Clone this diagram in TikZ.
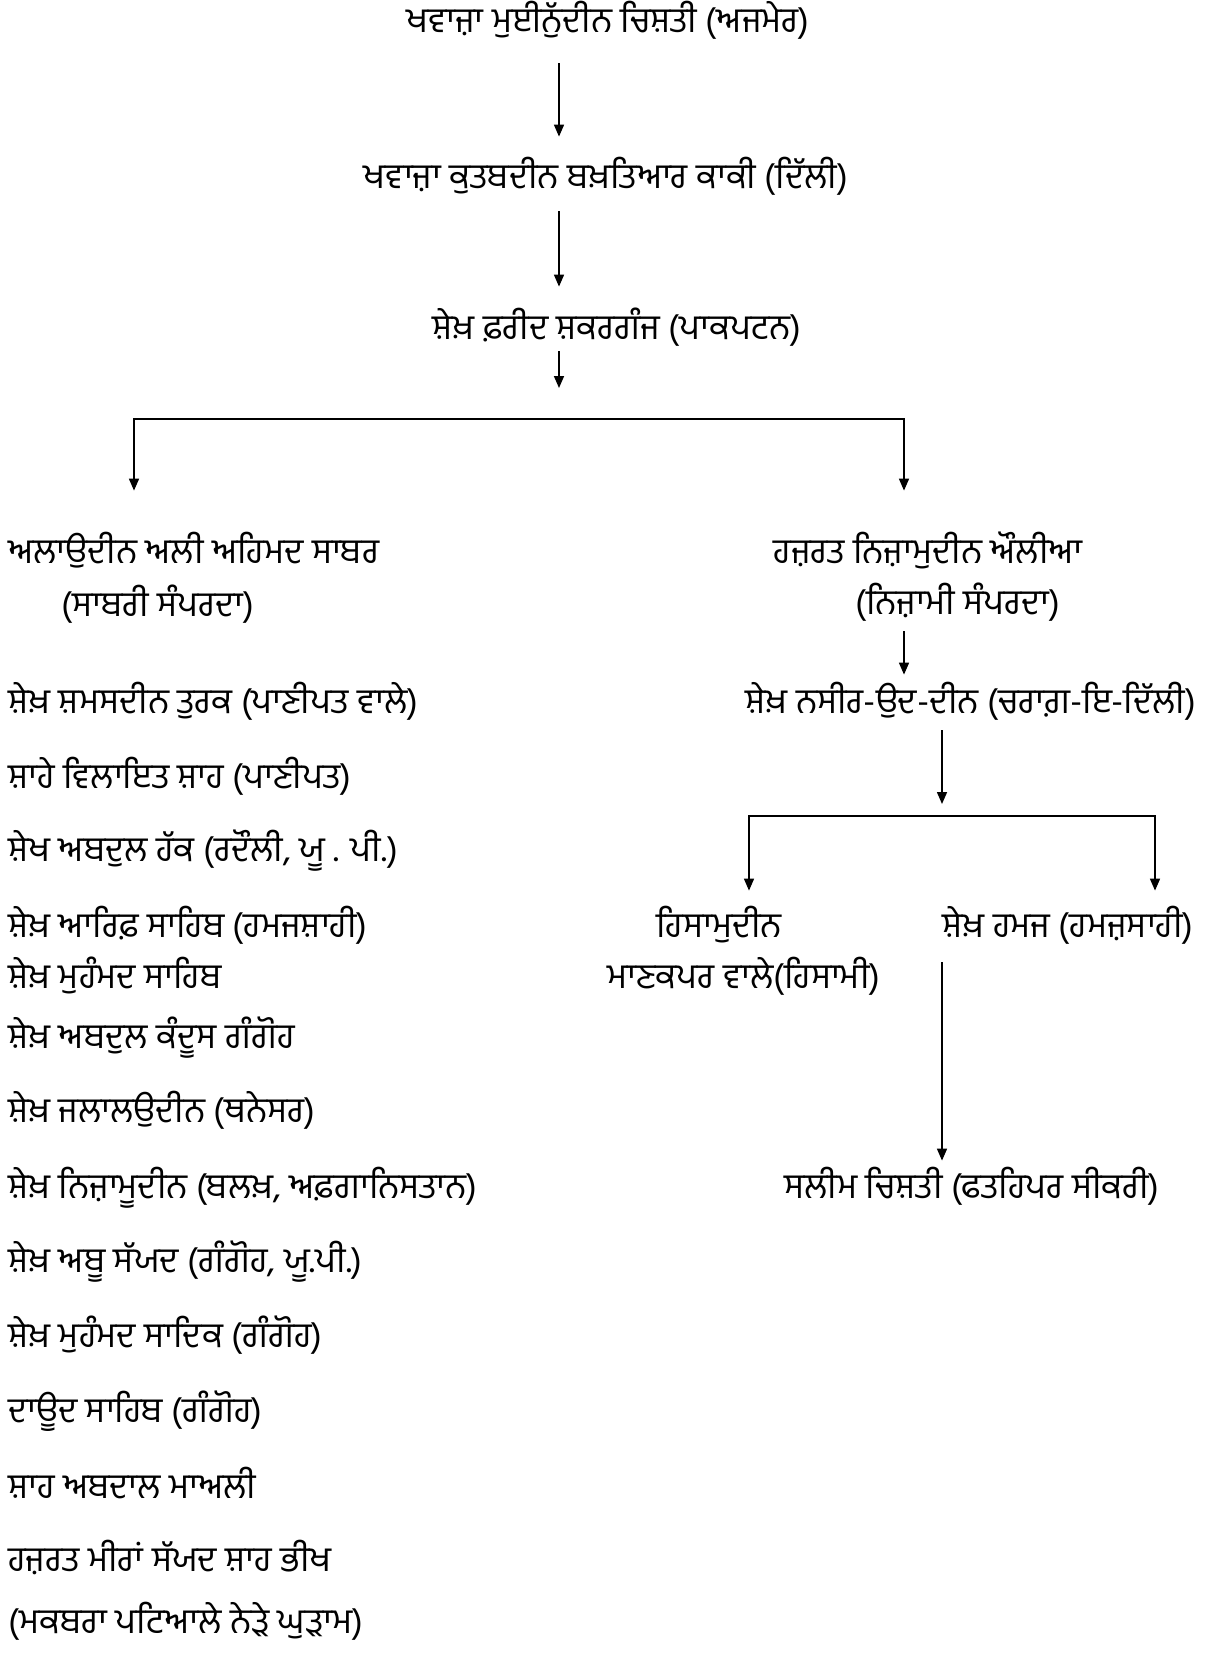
\documentclass[tikz,border=0pt]{standalone}
\usepackage{fontspec}
\newfontfamily\pa[Script=Gurmukhi]{Hind Jalandhar}
\usetikzlibrary{arrows.meta}
\begin{document}
\begin{tikzpicture}[x=0.5pt,y=-0.5pt,
  lbl/.style={inner sep=0pt, text height=14.7pt, text depth=5.3pt, font=\pa\fontsize{17.5}{21}\selectfont},
  lw/.style={lbl, anchor=west},
  arr/.style={line width=0.8pt, -{Triangle[length=6pt,width=5pt]}},
  both/.style={line width=0.8pt, {Triangle[length=6pt,width=5pt]}-{Triangle[length=6pt,width=5pt]}}]
\useasboundingbox[fill=white] (0,0) rectangle (1209,1654);
% trunk coordinates
\coordinate (trunk) at (559,0);
\coordinate (hub1) at (559,419);
\coordinate (bL) at (134,419);
\coordinate (bR) at (904,419);
\coordinate (hub2) at (942,816);
\coordinate (cL) at (749,816);
\coordinate (cR) at (1155,816);
% top chain
\node[lbl] (t1) at (608,23) {ਖਵਾਜ਼ਾ ਮੁਈਨੁੱਦੀਨ ਚਿਸ਼ਤੀ (ਅਜਮੇਰ)};
\node[lbl] (t2) at (606,179) {ਖਵਾਜ਼ਾ ਕੁਤਬਦੀਨ ਬਖ਼ਤਿਆਰ ਕਾਕੀ (ਦਿੱਲੀ)};
\node[lbl] (t3) at (617,330) {ਸ਼ੇਖ਼ ਫ਼ਰੀਦ ਸ਼ਕਰਗੰਜ (ਪਾਕਪਟਨ)};
% branches
\node[lw] (l0a) at (8,554) {ਅਲਾਉਦੀਨ ਅਲੀ ਅਹਿਮਦ ਸਾਬਰ};
\node[lbl] (l0b) at (158,607) {(ਸਾਬਰੀ ਸੰਪਰਦਾ)};
\node[lbl] (r0a) at (928,554) {ਹਜ਼ਰਤ ਨਿਜ਼ਾਮੁਦੀਨ ਔਲੀਆ};
\node[lbl] (r0b) at (958,605) {(ਨਿਜ਼ਾਮੀ ਸੰਪਰਦਾ)};
% right column
\node[lbl] (r1) at (971,704) {ਸ਼ੇਖ਼ ਨਸੀਰ-ਉਦ-ਦੀਨ (ਚਰਾਗ਼-ਇ-ਦਿੱਲੀ)};
\node[lbl] (h1) at (719,928) {ਹਿਸਾਮੁਦੀਨ};
\node[lbl] (h2) at (744,979) {ਮਾਣਕਪਰ ਵਾਲੇ(ਹਿਸਾਮੀ)};
\node[lbl] (hz) at (1068,928) {ਸ਼ੇਖ਼ ਹਮਜ (ਹਮਜ਼ਸਾਹੀ)};
\node[lbl] (sl) at (972,1189) {ਸਲੀਮ ਚਿਸ਼ਤੀ (ਫਤਹਿਪਰ ਸੀਕਰੀ)};
% left column
\node[lw] (l1) at (8,704) {ਸ਼ੇਖ਼ ਸ਼ਮਸਦੀਨ ਤੁਰਕ (ਪਾਣੀਪਤ ਵਾਲੇ)};
\node[lw] (l2) at (8,779) {ਸ਼ਾਹੇ ਵਿਲਾਇਤ ਸ਼ਾਹ (ਪਾਣੀਪਤ)};
\node[lw] (l3) at (8,852) {ਸ਼ੇਖ ਅਬਦੁਲ ਹੱਕ (ਰਦੌਲੀ, ਯੂ . ਪੀ.)};
\node[lw] (l4) at (8,928) {ਸ਼ੇਖ਼ ਆਰਿਫ਼ ਸਾਹਿਬ (ਹਮਜਸ਼ਾਹੀ)};
\node[lw] (l5) at (8,979) {ਸ਼ੇਖ਼ ਮੁਹੰਮਦ ਸਾਹਿਬ};
\node[lw] (l6) at (8,1039) {ਸ਼ੇਖ਼ ਅਬਦੁਲ ਕੰਦੂਸ ਗੰਗੋਹ};
\node[lw] (l7) at (8,1113) {ਸ਼ੇਖ਼ ਜਲਾਲਉਦੀਨ (ਥਨੇਸਰ)};
\node[lw] (l8) at (8,1189) {ਸ਼ੇਖ਼ ਨਿਜ਼ਾਮੂਦੀਨ (ਬਲਖ਼, ਅਫ਼ਗਾਨਿਸਤਾਨ)};
\node[lw] (l9) at (8,1263) {ਸ਼ੇਖ਼ ਅਬੂ ਸੱਯਦ (ਗੰਗੋਹ, ਯੂ.ਪੀ.)};
\node[lw] (l10) at (8,1338) {ਸ਼ੇਖ਼ ਮੁਹੰਮਦ ਸਾਦਿਕ (ਗੰਗੋਹ)};
\node[lw] (l11) at (8,1413) {ਦਾਊਦ ਸਾਹਿਬ (ਗੰਗੋਹ)};
\node[lw] (l12) at (8,1489) {ਸ਼ਾਹ ਅਬਦਾਲ ਮਾਅਲੀ};
\node[lw] (l13) at (8,1562) {ਹਜ਼ਰਤ ਮੀਰਾਂ ਸੱਯਦ ਸ਼ਾਹ ਭੀਖ};
\node[lw] (l14) at (8,1624) {(ਮਕਬਰਾ ਪਟਿਆਲੇ ਨੇੜੇ ਘੁੜਾਮ)};
% connectors
\draw[arr, shorten <=10pt, shorten >=11pt] (t1.south -| trunk) -- (t2.north -| trunk);
\draw[arr, shorten <=6pt, shorten >=11.5pt] (t2.south -| trunk) -- (t3.north -| trunk);
\draw[arr, shorten <=0.5pt, shorten >=15.5pt] (t3.south -| trunk) -- (hub1);
\draw[both, shorten <=21.5pt, shorten >=21.5pt] (bL |- l0a.north) -- (bL) -- (bR) -- (bR |- r0a.north);
\draw[arr, shorten <=3pt, shorten >=4.5pt] (r0b.south -| bR) -- (r1.north -| bR);
\draw[arr, shorten <=3pt, shorten >=6pt] (r1.south -| hub2) -- (hub2);
\draw[both, shorten <=8.5pt, shorten >=8.5pt] (cL |- h1.north) -- (cL) -- (cR) -- (cR |- hz.north);
\draw[arr, shorten <=7pt, shorten >=4pt] (hz.south -| hub2) -- (sl.north -| hub2);
\end{tikzpicture}
\end{document}
